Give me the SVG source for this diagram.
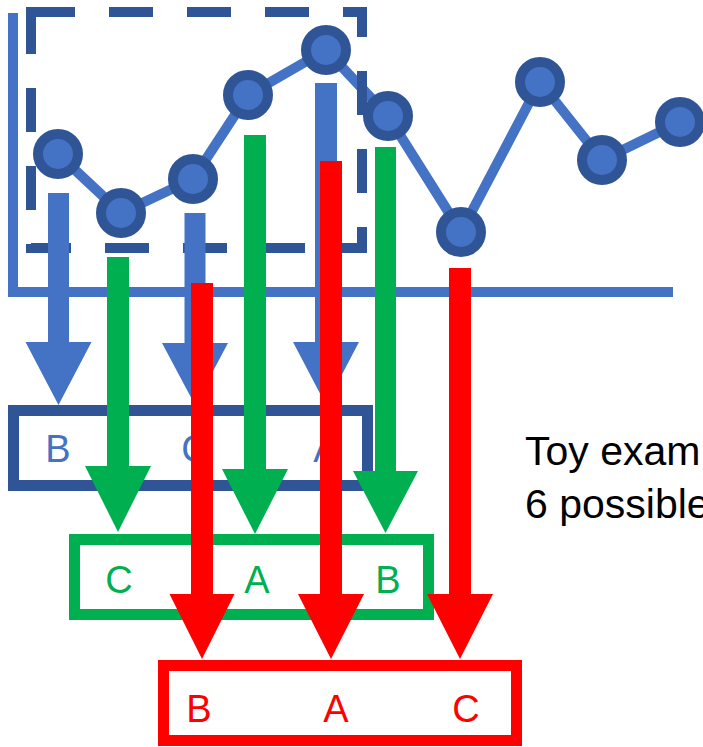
<svg xmlns="http://www.w3.org/2000/svg" width="703" height="747" viewBox="0 0 703 747">
  <style>
    .axis { fill: none; stroke: #4472C4; stroke-width: 10; }
    .series { fill: none; stroke: #4472C4; stroke-width: 10; stroke-linejoin: round; }
    .pt { fill: #4472C4; stroke: #2F5597; stroke-width: 10; }
    .frame { fill: none; stroke: #2F5597; stroke-width: 10; stroke-dasharray: 44 34; stroke-linejoin: miter; }
    .box { fill: #FFFFFF; stroke-width: 11; }
    .lbl { font-family: "Liberation Sans", Arial, sans-serif; font-size: 38px; text-anchor: middle; }
    .caption { font-family: "Liberation Sans", Arial, sans-serif; font-size: 41px; fill: #000000; }
    .blue { fill: #4472C4; }
    .green { fill: #00B050; }
    .red { fill: #FF0000; }
  </style>

  <!-- chart: axes, series line, data points -->
  <g id="chart">
    <path class="axis" d="M13 13 V292 H673"/>
    <polyline class="series" points="58,154 121,213 193,179 248,95 326,50 388,116 461,232 540,82 602,160 680,122"/>
    <circle class="pt" cx="58" cy="154" r="20"/>
    <circle class="pt" cx="121" cy="213" r="20"/>
    <circle class="pt" cx="193" cy="179" r="20"/>
    <circle class="pt" cx="248" cy="95" r="20"/>
    <circle class="pt" cx="326" cy="50" r="20"/>
    <circle class="pt" cx="388" cy="116" r="20"/>
    <circle class="pt" cx="461" cy="232" r="20"/>
    <circle class="pt" cx="540" cy="82" r="20"/>
    <circle class="pt" cx="602" cy="160" r="20"/>
    <circle class="pt" cx="680" cy="122" r="20"/>
  </g>

  <!-- dashed selection window -->
  <g id="window">
    <path class="frame" d="M31 12 H362 V248 H31 Z"/>
  </g>

  <!-- orderings -->
  <g id="order-blue">
    <rect class="box" x="13.5" y="410.5" width="354" height="75" stroke="#2F5597"/>
    <text class="lbl blue" x="58" y="462">B</text>
    <text class="lbl blue" x="195" y="462">C</text>
    <text class="lbl blue" x="326" y="462">A</text>
  </g>
  <g id="order-green">
    <rect class="box" x="74.5" y="539.5" width="354" height="75" stroke="#00B050"/>
    <text class="lbl green" x="119" y="593">C</text>
    <text class="lbl green" x="257" y="593">A</text>
    <text class="lbl green" x="388" y="593">B</text>
  </g>
  <g id="order-red">
    <rect class="box" x="163.5" y="665.5" width="353" height="75" stroke="#FF0000"/>
    <text class="lbl red" x="199" y="722">B</text>
    <text class="lbl red" x="336" y="722">A</text>
    <text class="lbl red" x="466" y="722">C</text>
  </g>

  <!-- arrows from data points to their slot in each ordering -->
  <g id="connectors">
    <g class="blue">
      <path d="M48 193 H69 V342 H91.5 L58.5 405 L25.5 342 H48 Z"/>
      <path d="M184.5 213 H205.5 V343 H228 L195 405 L162 343 H184.5 Z"/>
      <path d="M315 83 H337 V342 H359 L326 405 L293 342 H315 Z"/>
    </g>
    <g class="green">
      <path d="M107 257 H129 V466 H151 L118 532 L85 466 H107 Z"/>
      <path d="M244 135 H266 V469 H288 L255 534 L222 469 H244 Z"/>
      <path d="M375 147 H396 V471 H418 L385.5 533 L353 471 H375 Z"/>
    </g>
    <g class="red">
      <path d="M191 283 H213 V594 H234.5 L202 659 L169.5 594 H191 Z"/>
      <path d="M320 161 H342 V594 H364 L331 659 L298 594 H320 Z"/>
      <path d="M449 268 H471 V594 H493 L460 659 L427 594 H449 Z"/>
    </g>
  </g>

  <!-- caption -->
  <g id="caption">
    <text class="caption" x="525" y="465">Toy exam</text>
    <text class="caption" x="525" y="518">6 possible</text>
  </g>
</svg>
